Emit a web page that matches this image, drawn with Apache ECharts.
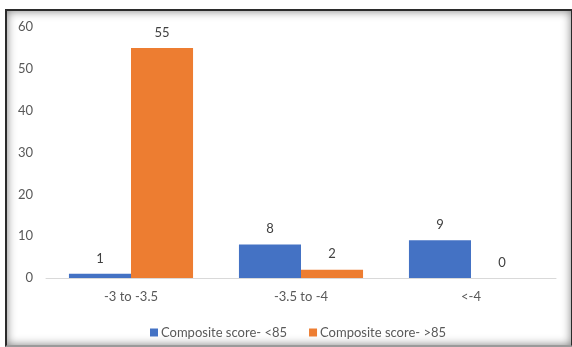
<!DOCTYPE html>
<html>
<head>
<meta charset="utf-8">
<script src="https://cdn.jsdelivr.net/npm/echarts@6/dist/echarts.min.js"></script>
<style>
  html, body { margin: 0; padding: 0; background: #fff; }
  #wrap { position: relative; width: 572px; height: 347px; overflow: hidden; }
  #frame {
    position: absolute; left: 5px; top: 9px; width: 568px; height: 338px;
    box-sizing: border-box; border: 2px solid #2b2b2b; border-bottom-color: #9a9a9a;
    box-shadow: inset 0 0 10px rgba(0,0,0,0.5);
  }
  #chart { position: absolute; left: 0; top: 0; width: 572px; height: 347px; }
</style>
</head>
<body>
<div id="wrap">
  <div id="frame"></div>
  <div id="chart"></div>
</div>
<script>
// Score bands on the category axis
const categories = ['-3 to -3.5', '-3.5 to -4', '<-4'];
// Counts per band for each composite-score group
const below85 = [1, 8, 9];
const above85 = [55, 2, 0];
const seriesNames = ['Composite score- <85', 'Composite score- >85'];
const yTicks = { min: 0, max: 60, step: 10 };

const font = 'Lato, "Open Sans", sans-serif';
const chart = echarts.init(document.getElementById('chart'), null, { renderer: 'canvas' });

const valueLabel = {
  show: true, position: 'top', distance: 9,
  color: '#404040', fontSize: 13, fontFamily: font
};

chart.setOption({
  animation: false,
  grid: { left: 46, right: 16, top: 27, bottom: 69, containLabel: false },
  legend: {
    left: 145, top: 321,
    itemWidth: 8, itemHeight: 8, itemGap: 22,
    icon: 'rect',
    textStyle: { color: '#595959', fontSize: 13, fontFamily: font, padding: [0, 0, 0, -2] },
    data: seriesNames
  },
  xAxis: {
    type: 'category',
    data: categories,
    axisLine: { lineStyle: { color: '#D9D9D9', width: 1 } },
    axisTick: { show: false },
    axisLabel: { color: '#595959', fontSize: 13, fontFamily: font, margin: 12 }
  },
  yAxis: {
    type: 'value',
    min: yTicks.min, max: yTicks.max, interval: yTicks.step,
    splitLine: { show: false },
    axisLine: { show: false },
    axisTick: { show: false },
    axisLabel: { color: '#595959', fontSize: 13, fontFamily: font, margin: 13 }
  },
  series: [
    {
      name: seriesNames[0], type: 'bar', data: below85,
      itemStyle: { color: '#4472C4' },
      barGap: '0%', barCategoryGap: '27%',
      label: valueLabel
    },
    {
      name: seriesNames[1], type: 'bar', data: above85,
      itemStyle: { color: '#ED7D31' },
      barGap: '0%', barCategoryGap: '27%',
      label: valueLabel
    }
  ]
});
</script>
</body>
</html>
